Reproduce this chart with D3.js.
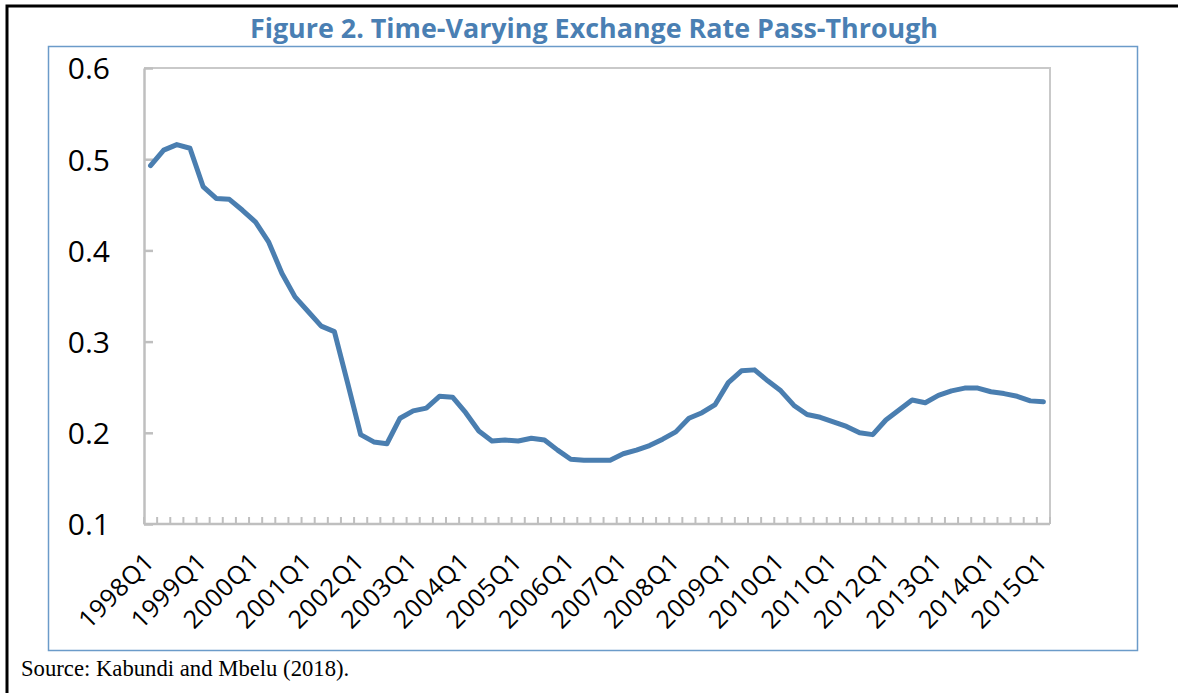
<!DOCTYPE html>
<html>
<head>
<meta charset="utf-8">
<script src="https://cdn.jsdelivr.net/npm/d3@7"></script>
<style>
  html, body { margin: 0; padding: 0; background: #fff; }
  svg { display: block; }
</style>
</head>
<body>
<svg id="chart" width="1178" height="693"></svg>
<script>
const titleText = "Figure 2. Time-Varying Exchange Rate Pass-Through";
const sourceText = "Source: Kabundi and Mbelu (2018).";

const categories = [
  "1998Q1","1998Q2","1998Q3","1998Q4","1999Q1","1999Q2","1999Q3","1999Q4",
  "2000Q1","2000Q2","2000Q3","2000Q4","2001Q1","2001Q2","2001Q3","2001Q4",
  "2002Q1","2002Q2","2002Q3","2002Q4","2003Q1","2003Q2","2003Q3","2003Q4",
  "2004Q1","2004Q2","2004Q3","2004Q4","2005Q1","2005Q2","2005Q3","2005Q4",
  "2006Q1","2006Q2","2006Q3","2006Q4","2007Q1","2007Q2","2007Q3","2007Q4",
  "2008Q1","2008Q2","2008Q3","2008Q4","2009Q1","2009Q2","2009Q3","2009Q4",
  "2010Q1","2010Q2","2010Q3","2010Q4","2011Q1","2011Q2","2011Q3","2011Q4",
  "2012Q1","2012Q2","2012Q3","2012Q4","2013Q1","2013Q2","2013Q3","2013Q4",
  "2014Q1","2014Q2","2014Q3","2014Q4","2015Q1"
];

const passThrough = [
  0.493,0.510,0.516,0.512,0.470,0.457,0.456,0.444,
  0.431,0.409,0.375,0.349,0.333,0.317,0.311,0.255,
  0.198,0.190,0.188,0.216,0.224,0.227,0.240,0.239,
  0.222,0.202,0.191,0.192,0.191,0.194,0.192,0.181,
  0.171,0.170,0.170,0.170,0.177,0.181,0.186,0.193,
  0.201,0.216,0.222,0.231,0.255,0.268,0.269,0.257,
  0.246,0.230,0.220,0.217,0.212,0.207,0.200,0.198,
  0.214,0.225,0.236,0.233,0.241,0.246,0.249,0.249,
  0.245,0.243,0.240,0.235,0.234
];

const yTicks = [0.1, 0.2, 0.3, 0.4, 0.5, 0.6];
const xLabels = ["1998Q1","1999Q1","2000Q1","2001Q1","2002Q1","2003Q1","2004Q1","2005Q1","2006Q1",
  "2007Q1","2008Q1","2009Q1","2010Q1","2011Q1","2012Q1","2013Q1","2014Q1","2015Q1"];

(function () {
const svg = d3.select("#chart");

// outer black page border
svg.append("rect")
  .attr("x", 7).attr("y", 6).attr("width", 1300).attr("height", 900)
  .attr("fill", "none").attr("stroke", "#000").attr("stroke-width", 3);

// blue chart frame
svg.append("rect")
  .attr("x", 48.5).attr("y", 46.5).attr("width", 1089).attr("height", 604)
  .attr("fill", "none").attr("stroke", "#6b9bc9").attr("stroke-width", 1.5);

// title
svg.append("text")
  .attr("x", 594).attr("y", 38)
  .attr("text-anchor", "middle")
  .attr("font-family", "'Open Sans', sans-serif")
  .attr("font-weight", 700)
  .attr("font-size", 26)
  .attr("fill", "#4a7fb3")
  .attr("textLength", 688)
  .attr("lengthAdjust", "spacingAndGlyphs")
  .text(titleText);

// source
svg.append("text")
  .attr("x", 21).attr("y", 676)
  .attr("font-family", "'Liberation Serif', 'Times New Roman', serif")
  .attr("font-size", 22.7)
  .attr("fill", "#000")
  .text(sourceText);

const pLeft = 144, pRight = 1050, pTop = 68, pBottom = 524;

const x = d3.scaleBand().domain(categories).range([pLeft, pRight]).padding(0);
const y = d3.scaleLinear().domain([0.1, 0.6]).range([pBottom, pTop]);

const axisColor = "#bfbfbf";

// plot frame top & right
svg.append("path")
  .attr("d", `M${pLeft},${pTop}H${pRight}V${pBottom}`)
  .attr("fill", "none").attr("stroke", "#c9c9c9").attr("stroke-width", 2);

// y axis
const yAxis = d3.axisLeft(y).tickValues(yTicks).tickFormat(d3.format(".1f"))
  .tickSizeInner(-9).tickSizeOuter(0).tickPadding(34);
const gy = svg.append("g").attr("transform", `translate(${pLeft},0)`).call(yAxis);
gy.select(".domain").attr("stroke", axisColor).attr("stroke-width", 2.5);
gy.selectAll(".tick line").attr("stroke", axisColor).attr("stroke-width", 2.5);
gy.selectAll(".tick text")
  .attr("font-family", "'Open Sans', sans-serif")
  .attr("font-size", 30)
  .attr("fill", "#000")
  .attr("dy", "0.36em");

// x axis: ticks between categories, upward
const tickPositions = categories.map(c => x(c)).concat([x.range()[1]]);
const gx = svg.append("g");
gx.append("line")
  .attr("x1", pLeft).attr("x2", pRight).attr("y1", pBottom).attr("y2", pBottom)
  .attr("stroke", axisColor).attr("stroke-width", 2.5);
gx.selectAll("line.tk").data(tickPositions).join("line")
  .attr("class", "tk")
  .attr("x1", d => d).attr("x2", d => d)
  .attr("y1", pBottom).attr("y2", pBottom - 7)
  .attr("stroke", axisColor).attr("stroke-width", 2);

gx.selectAll("text.xl").data(xLabels).join("text")
  .attr("class", "xl")
  .attr("text-anchor", "end")
  .attr("font-family", "'Open Sans', sans-serif")
  .attr("font-size", 25)
  .attr("letter-spacing", 0.6)
  .attr("fill", "#000")
  .attr("transform", d => `translate(${x(d) + x.bandwidth() / 2 - 8},${pBottom + 26}) rotate(-45)`)
  .attr("dy", "0.75em")
  .text(d => d);

// line
const line = d3.line()
  .x((d, i) => x(categories[i]) + x.bandwidth() / 2)
  .y(d => y(d));

svg.append("path")
  .datum(passThrough)
  .attr("d", line)
  .attr("fill", "none")
  .attr("stroke", "#4a7eb0")
  .attr("stroke-width", 5)
  .attr("stroke-linejoin", "round")
  .attr("stroke-linecap", "round");
})();
</script>
</body>
</html>
